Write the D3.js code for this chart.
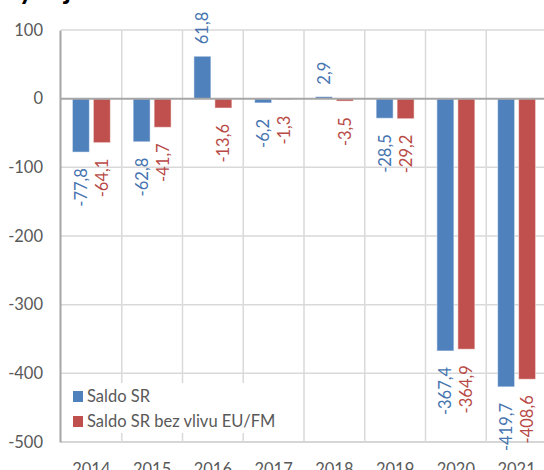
<!DOCTYPE html>
<html>
<head>
<meta charset="utf-8">
<script src="https://cdn.jsdelivr.net/npm/d3@7"></script>
<style>
  body { margin: 0; background: #fff; }
  svg text { font-family: Lato, "Open Sans", sans-serif; }
</style>
</head>
<body>
<div id="chart"></div>
<script>
var years = ['2014', '2015', '2016', '2017', '2018', '2019', '2020', '2021'];
var saldoSR = [-77.8, -62.8, 61.8, -6.2, 2.9, -28.5, -367.4, -419.7];
var saldoBezEU = [-64.1, -41.7, -13.6, -1.3, -3.5, -29.2, -364.9, -408.6];
var seriesNames = ['Saldo SR', 'Saldo SR bez vlivu EU/FM'];
var yTicks = [100, 0, -100, -200, -300, -400, -500];

var width = 544, height = 470;
var colors = ['#4f81bd', '#c0504d'];
var labelColors = ['#4674b0', '#b84a46'];

var svg = d3.select('#chart').append('svg')
  .attr('width', width)
  .attr('height', height);

var x = d3.scaleBand().domain(years).range([61, 547]).padding(0);
var xs = d3.scaleBand().domain([0, 1])
  .range([11.4, x.bandwidth() - 11.4])
  .paddingInner(4 / 21);
var y = d3.scaleLinear().domain([-500, 100]).range([442, 30]);

// comma decimals, plain hyphen for minus
var fmt = function(v) { return v.toFixed(1).replace('.', ','); };

// title, mostly cut off at the top
svg.append('text')
  .attr('x', 0).attr('y', -1)
  .style('font-size', '28px').style('font-weight', 'bold')
  .attr('fill', '#000')
  .text('Vývoj salda SR');

// gridlines
var grid = svg.append('g');
grid.selectAll('line.h')
  .data(yTicks.filter(function(d) { return d !== 0; }))
  .enter().append('line')
  .attr('x1', 61).attr('x2', 547)
  .attr('y1', function(d) { return y(d); })
  .attr('y2', function(d) { return y(d); })
  .attr('stroke', function(d) { return d === -500 ? '#c8c8c8' : '#d9d9d9'; })
  .attr('stroke-width', 1.5);

grid.selectAll('line.v')
  .data(years)
  .enter().append('line')
  .attr('x1', function(d) { return x(d) + x.step(); })
  .attr('x2', function(d) { return x(d) + x.step(); })
  .attr('y1', y(100)).attr('y2', y(-500))
  .attr('stroke', '#d9d9d9')
  .attr('stroke-width', 1.5);

// y axis
var yAxis = svg.append('g')
  .attr('transform', 'translate(60,0)')
  .call(d3.axisLeft(y).tickValues(yTicks).tickSize(0).tickPadding(17)
    .tickFormat(function(d) { return String(d); }));
yAxis.select('.domain').attr('stroke', '#a6a6a6').attr('stroke-width', 2);
yAxis.selectAll('text')
  .style('font-size', '16.5px')
  .attr('fill', '#595959');

// x axis labels (cut off at the bottom)
var xAxis = svg.append('g')
  .attr('transform', 'translate(0,' + y(-500) + ')')
  .call(d3.axisBottom(x).tickSize(0).tickPadding(21));
xAxis.select('.domain').remove();
xAxis.selectAll('text')
  .style('font-size', '16.5px')
  .attr('fill', '#595959');

// bars
var rows = years.map(function(yr, i) { return { year: yr, vals: [saldoSR[i], saldoBezEU[i]] }; });

var groups = svg.selectAll('g.year')
  .data(rows)
  .enter().append('g')
  .attr('class', 'year')
  .attr('transform', function(d) { return 'translate(' + x(d.year) + ',0)'; });

groups.selectAll('rect')
  .data(function(d) { return d.vals; })
  .enter().append('rect')
  .attr('x', function(d, i) { return xs(i); })
  .attr('width', xs.bandwidth())
  .attr('y', function(d) { return y(Math.max(0, d)); })
  .attr('height', function(d) { return Math.abs(y(d) - y(0)); })
  .attr('fill', function(d, i) { return colors[i]; })
  .attr('stroke', '#fff')
  .attr('stroke-opacity', 0.5)
  .attr('stroke-width', 1);

// zero line
svg.append('line')
  .attr('x1', 61).attr('x2', 547)
  .attr('y1', y(0)).attr('y2', y(0))
  .attr('stroke', '#a6a6a6')
  .attr('stroke-width', 2);

// data labels, rotated
groups.selectAll('text.lbl')
  .data(function(d) { return d.vals; })
  .enter().append('text')
  .attr('class', 'lbl')
  .attr('text-anchor', function(d) { return d < 0 ? 'end' : 'start'; })
  .attr('dy', '0.36em')
  .attr('transform', function(d, i) {
    var cx = xs(i) + xs.bandwidth() / 2;
    var cy = d < 0 ? y(d) + 16 : y(d) - 12;
    return 'translate(' + cx + ',' + cy + ')rotate(-90)';
  })
  .style('font-size', '16.5px')
  .attr('fill', function(d, i) { return labelColors[i]; })
  .text(function(d) { return fmt(d); });

// legend
var legend = svg.append('g').attr('transform', 'translate(67,383)');
legend.append('rect')
  .attr('width', 212).attr('height', 50)
  .attr('fill', '#fff');

var items = legend.selectAll('g.item')
  .data(seriesNames)
  .enter().append('g')
  .attr('class', 'item')
  .attr('transform', function(d, i) { return 'translate(6,' + (8 + i * 25) + ')'; });

items.append('rect')
  .attr('width', 10).attr('height', 11)
  .attr('fill', function(d, i) { return colors[i]; });

items.append('text')
  .attr('x', 14).attr('y', 11)
  .style('font-size', '16.5px')
  .attr('fill', '#595959')
  .text(function(d) { return d; });
</script>
</body>
</html>
